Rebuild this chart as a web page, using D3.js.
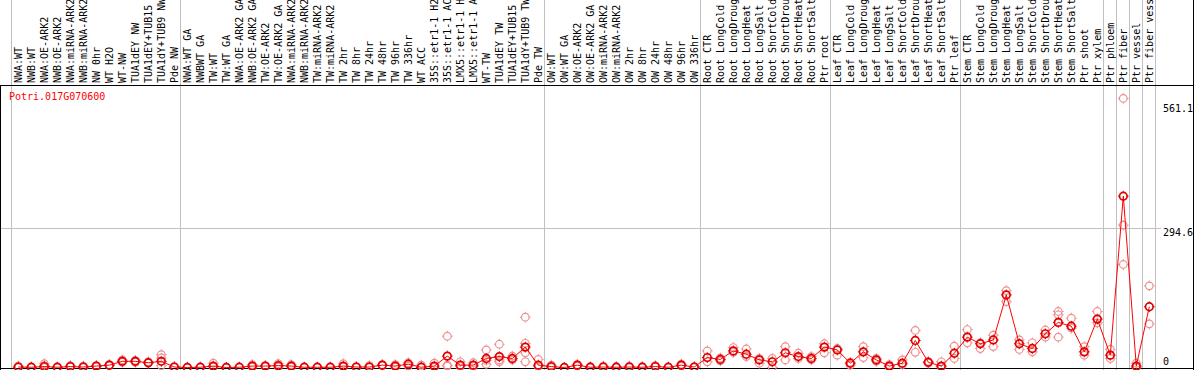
<!DOCTYPE html>
<html><head><meta charset="utf-8">
<script src="https://cdn.jsdelivr.net/npm/d3@7/dist/d3.min.js"></script>
<style>html,body{margin:0;padding:0;background:#fff;overflow:hidden}svg{display:block}</style>
</head><body>
<script>
const geneId = "Potri.017G070600";
const labels = [
 "NWA:WT","NWB:WT","NWA:OE-ARK2","NWB:OE-ARK2","NWA:miRNA-ARK2","NWB:miRNA-ARK2","NW 0hr","WT H2O","WT-NW","TUA1dEY NW","TUA1dEY+TUB15 NW","TUA1dY+TUB9 NW","Pde NW",
 "NWA:WT GA","NWBWT GA","TW:WT","TW:WT GA","NWA:OE-ARK2 GA","NWB:OE-ARK2 GA","TW:OE-ARK2","TW:OE-ARK2 GA","NWA:miRNA-ARK2","NWB:miRNA-ARK2","TW:miRNA-ARK2","TW:miRNA-ARK2","TW 2hr","TW 8hr","TW 24hr","TW 48hr","TW 96hr","TW 336hr","WT ACC","35S::etr1-1 H2O","35S::etr1-1 ACC","LMX5::etr1-1 H2O","LMX5::etr1-1 ACC","WT-TW","TUA1dEY TW","TUA1dEY+TUB15 TW","TUA1dY+TUB9 TW","Pde TW",
 "OW:WT","OW:WT GA","OW:OE-ARK2","OW:OE-ARK2 GA","OW:miRNA-ARK2","OW:miRNA-ARK2","OW 2hr","OW 8hr","OW 24hr","OW 48hr","OW 96hr","OW 336hr",
 "Root CTR","Root LongCold","Root LongDrought","Root LongHeat","Root LongSalt","Root ShortCold","Root ShortDrought","Root ShortHeat","Root ShortSalt","Ptr root",
 "Leaf CTR","Leaf LongCold","Leaf LongDrought","Leaf LongHeat","Leaf LongSalt","Leaf ShortCold","Leaf ShortDrought","Leaf ShortHeat","Leaf ShortSalt","Ptr leaf",
 "Stem CTR","Stem LongCold","Stem LongDrought","Stem LongHeat","Stem LongSalt","Stem ShortCold","Stem ShortDrought","Stem ShortHeat","Stem ShortSalt","Ptr shoot","Ptr xylem",
 "Ptr phloem","Ptr fiber","Ptr vessel","Ptr fiber vessel"
];
const groupStarts = [0, 13, 41, 53, 63, 73, 84, 85, 86, 87, 88];
const means = [
 1,0.5,2,0.5,2,1,3,5,13,13,10,13,1,
 0,0.5,3,0,0.5,3,3,4,3,0.5,0.5,0.5,3,1,1,5,3,7,0.5,3,24,5,5,19,23,19,43,5,
 2,0,5,0.5,1,0.5,1,0.5,2,0.5,5,1,
 21,17,35,28,16,12,31,23,19,43,
 37,9,33,16,3,9,57,11,3,30,
 64,50,58,153,50,40,71,95,87,33,102,
 26,361,3,128
];
const replicates = [
 [0,3],[0,1],[0,4,8],[0,1],[1,4],[0,3],[2,4],[4,6],[11,16],[11,15],[9,12],[4,20,27],[0,2],
 [0,1],[0,1],[1,9],[0,1],[0,1],[1,6],[2,4],[1,8],[1,6],[0,1],[0,1],[0,1],[1,8],[0,2],[0,4],[4,6],[1,6],[3,10],[0,5],[0,9],[3,5,66],[2,12],[2,10],[7,15,37],[12,16,49],[16,24],[12,31,51,106],[2,17],
 [0,5],[0],[3,6],[0,2],[0,3],[0,2],[0,3],[0,2],[1,4],[0,1],[3,7],[0,2],
 [12,35],[14,20],[32,42],[23,39],[9,19],[0,19],[16,44],[19,30],[16,23],[31,50],
 [26,40],[5,11],[21,44],[13,19],[1,6],[6,16],[32,78],[9,13],[1,12],[19,45],
 [52,80],[40,52],[44,68],[139,162],[38,58],[33,52],[64,79],[64,111,118],[83,104],[26,44],[94,118],
 [19,38],[217,300,567],[0,9],[92,172]
];
const yTicks = [0, 294.6, 561.1];
const yGridTicks = [294.6];

const W = 1194, H = 370;
const svg = d3.select("body").append("svg").attr("width", W).attr("height", H)
  .style("font-family", "'DejaVu Sans Mono', monospace").style("font-size", "10px");

const x = d3.scaleBand().domain(d3.range(labels.length)).range([11.8, 11.8 + 13 * labels.length]);
const cx = i => x(i) + x.bandwidth() / 2;
const y = d3.scaleLinear().domain([0, 561.1]).range([367.5, 101.2]);

// vertical group gridlines
svg.append("g").selectAll("line").data(groupStarts).join("line")
  .attr("x1", g => Math.floor(g < labels.length ? x(g) : x.range()[1]) + 0.5)
  .attr("x2", g => Math.floor(g < labels.length ? x(g) : x.range()[1]) + 0.5)
  .attr("y1", 0).attr("y2", H)
  .attr("stroke", "#c0c0c0").attr("stroke-width", 1);

// horizontal gridline
svg.append("g").selectAll("line").data(yGridTicks).join("line")
  .attr("x1", 0).attr("x2", 1161)
  .attr("y1", d => Math.round(y(d)) + 0.5).attr("y2", d => Math.round(y(d)) + 0.5)
  .attr("stroke", "#c0c0c0");

// borders
svg.append("line").attr("x1", 0).attr("x2", W).attr("y1", 85.5).attr("y2", 85.5).attr("stroke", "#000");
svg.append("line").attr("x1", 0).attr("x2", W).attr("y1", 368.5).attr("y2", 368.5).attr("stroke", "#000");
svg.append("line").attr("x1", 0.5).attr("x2", 0.5).attr("y1", 85).attr("y2", H).attr("stroke", "#000");
svg.append("line").attr("x1", W - 0.5).attr("x2", W - 0.5).attr("y1", 0).attr("y2", H).attr("stroke", "#000");

// column labels
svg.append("g").selectAll("text").data(labels).join("text")
  .attr("transform", (d, i) => `translate(${cx(i) + 3.5},83) rotate(-90)`)
  .attr("fill", "#000").text(d => d);

// title
svg.append("text").attr("x", 9).attr("y", 100).attr("fill", "#ff0000").text(geneId);

// y labels
svg.append("g").selectAll("text").data(yTicks).join("text")
  .attr("x", 1163)
  .attr("y", d => d === 0 ? y(d) - 2.5 : (d > 500 ? y(d) + 10.5 : y(d) + 8))
  .attr("fill", "#000").text(d => d === 0 ? "0" : d3.format(".1f")(d));

function marker(g, px, py, color, sw) {
  const r = 3.8;
  g.append("circle").attr("cx", px).attr("cy", py).attr("r", r)
    .attr("fill", "none").attr("stroke", color).attr("stroke-width", sw);
  const t = [[0, -1], [0, 1], [-1, 0], [1, 0]];
  t.forEach(([dx, dy]) => g.append("line")
    .attr("x1", px + dx * r).attr("y1", py + dy * r)
    .attr("x2", px + dx * (r + 1.6)).attr("y2", py + dy * (r + 1.6))
    .attr("stroke", color).attr("stroke-width", 1));
}

// replicates
const repG = svg.append("g");
replicates.forEach((arr, i) => arr.forEach(v => marker(repG, cx(i), y(v), "#ee9090", 1.2)));

// mean line
svg.append("path").datum(means)
  .attr("d", d3.line().x((d, i) => cx(i)).y(d => y(d)))
  .attr("fill", "none").attr("stroke", "#ff0000").attr("stroke-width", 1);

// means
const meanG = svg.append("g");
means.forEach((v, i) => marker(meanG, cx(i), y(v), "#e00000", 1.7));
</script>
</body></html>
